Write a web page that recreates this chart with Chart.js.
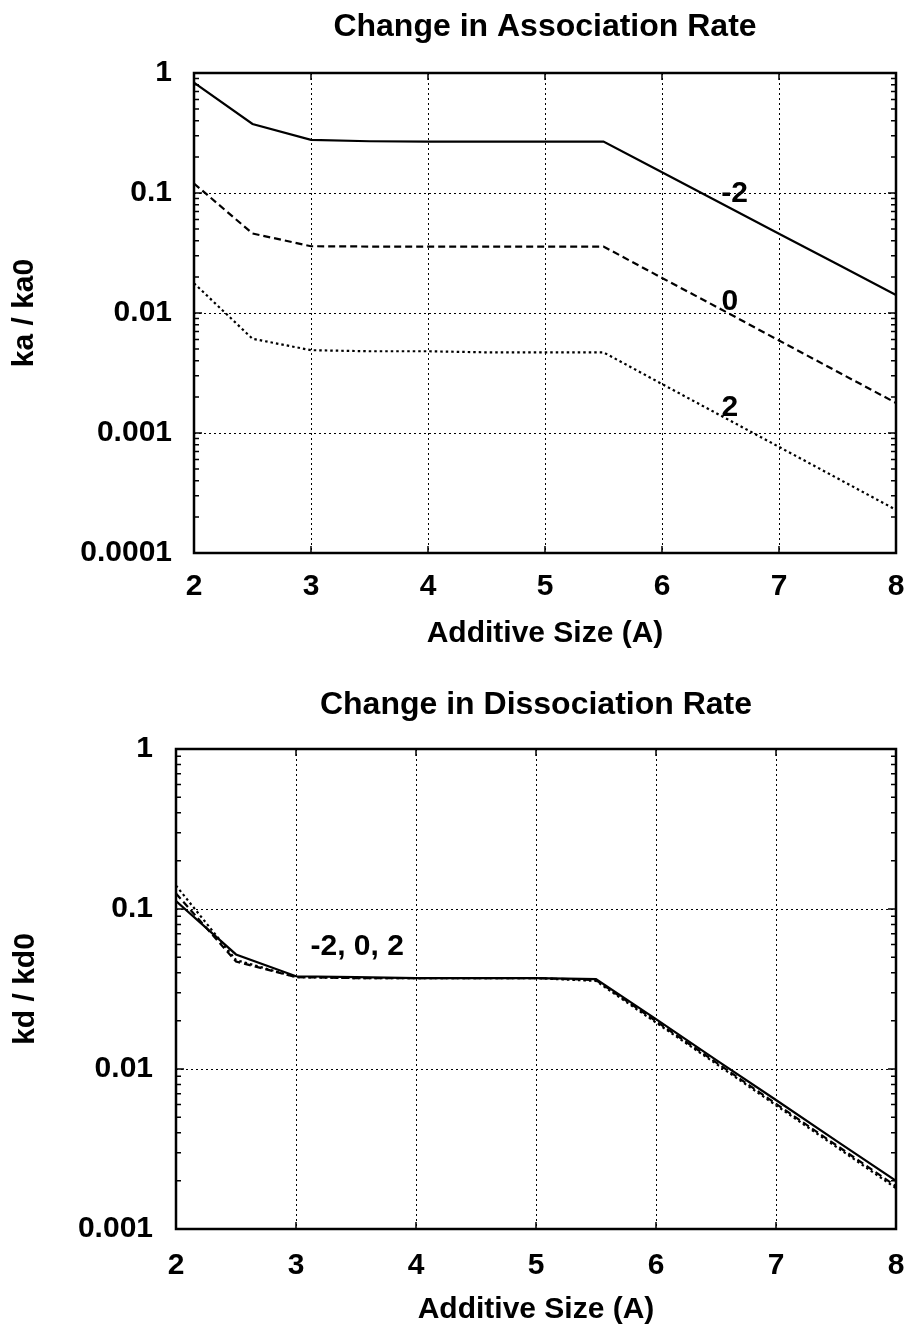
<!DOCTYPE html>
<html>
<head>
<meta charset="utf-8">
<title>Change in Association / Dissociation Rate</title>
<script src="https://cdn.jsdelivr.net/npm/chart.js@4.4.1/dist/chart.umd.min.js"></script>
<style>
  html, body { margin: 0; padding: 0; background: #fff; }
  canvas { display: block; }
</style>
</head>
<body>
<canvas id="assocChart" width="907" height="665"></canvas>
<canvas id="dissocChart" width="907" height="664"></canvas>
<script>
// additive size (A), sampled every 0.5
const sizes = [2, 2.5, 3, 3.5, 4, 4.5, 5, 5.5, 6, 6.5, 7, 7.5, 8];

// ka / ka0 for charges -2, 0, 2
const kaMinus2 = [0.83, 0.376, 0.277, 0.27, 0.268, 0.268, 0.268, 0.268, 0.149, 0.0826, 0.0458, 0.0255, 0.0141];
const kaZero   = [0.12, 0.046, 0.036, 0.0358, 0.0358, 0.0358, 0.0358, 0.0358, 0.0196, 0.0108, 0.0059, 0.00324, 0.00178];
const kaPlus2  = [0.0177, 0.0061, 0.0049, 0.0048, 0.0048, 0.0047, 0.0047, 0.0047, 0.00256, 0.0014, 0.000766, 0.000419, 0.000229];

// kd / kd0 for charges -2, 0, 2
const kdMinus2 = [0.112, 0.052, 0.038, 0.0375, 0.037, 0.037, 0.037, 0.0365, 0.0205, 0.0114, 0.0064, 0.00357, 0.002];
const kdZero   = [0.125, 0.047, 0.0375, 0.037, 0.037, 0.037, 0.037, 0.036, 0.0199, 0.011, 0.00606, 0.00335, 0.00185];
const kdPlus2  = [0.14, 0.048, 0.0375, 0.037, 0.037, 0.037, 0.037, 0.0355, 0.0195, 0.0108, 0.00593, 0.00327, 0.0018];

// axis ticks
const xTicks = [2, 3, 4, 5, 6, 7, 8];
const kaTicks = [1, 0.1, 0.01, 0.001, 0.0001];
const kdTicks = [1, 0.1, 0.01, 0.001];

// curve labels: text, x, y (data coords)
const kaCurveLabels = [['-2', 6.62, 0.098], ['0', 6.58, 0.0124], ['2', 6.58, 0.00163]];
const kdCurveLabels = [['-2, 0, 2', 3.51, 0.058]];

const FONT = "'Liberation Sans', Arial, Helvetica, sans-serif";
Chart.defaults.font.family = FONT;
Chart.defaults.font.weight = 'bold';
Chart.defaults.color = '#000';

const lineStyles = [
  { borderDash: [], borderWidth: 2.2 },        // -2 solid
  { borderDash: [7, 4], borderWidth: 2.2 },    // 0 dashed
  { borderDash: [2.5, 3], borderWidth: 2.2 }   // 2 dotted
];

// box frame, inward ticks and curve labels
const framePlugin = {
  id: 'frame',
  afterDatasetsDraw(chart, args, opts) {
    const { ctx, chartArea: { left, right, top, bottom } } = chart;
    const xs = chart.scales.x, ys = chart.scales.y;
    ctx.save();
    ctx.strokeStyle = '#000';
    ctx.lineWidth = 1.5;
    ctx.beginPath();
    xTicks.forEach(v => {
      const px = xs.getPixelForValue(v);
      ctx.moveTo(px, bottom); ctx.lineTo(px, bottom - 7);
      ctx.moveTo(px, top); ctx.lineTo(px, top + 7);
    });
    for (let d = ys.min; d < ys.max * 0.999; d *= 10) {
      for (let k = 1; k <= 9; k++) {
        const py = ys.getPixelForValue(k * d);
        const len = k === 1 ? 8 : 5;
        ctx.moveTo(left, py); ctx.lineTo(left + len, py);
        ctx.moveTo(right, py); ctx.lineTo(right - len, py);
      }
    }
    ctx.stroke();
    ctx.lineWidth = 2.5;
    ctx.strokeRect(left, top, right - left, bottom - top);

    ctx.fillStyle = '#000';
    ctx.font = 'bold 30px ' + FONT;
    ctx.textAlign = 'center';
    ctx.textBaseline = 'middle';
    (opts.labels || []).forEach(([t, vx, vy]) => {
      ctx.fillText(t, xs.getPixelForValue(vx), ys.getPixelForValue(vy));
    });
    ctx.restore();
  }
};

function makeChart(id, o) {
  const series = o.series.map((vals, i) => Object.assign({
    data: sizes.map((s, j) => ({ x: s, y: vals[j] })),
    borderColor: '#000',
    pointRadius: 0,
    tension: 0,
    fill: false
  }, lineStyles[i]));

  return new Chart(document.getElementById(id), {
    type: 'line',
    data: { datasets: series },
    plugins: [framePlugin],
    options: {
      responsive: false,
      animation: false,
      devicePixelRatio: 1,
      layout: { padding: { left: 0, right: 11, top: 0, bottom: 0 } },
      plugins: {
        legend: { display: false },
        tooltip: { enabled: false },
        title: {
          display: true,
          text: o.title,
          fullSize: false,
          color: '#000',
          font: { size: 32, weight: 'bold' },
          padding: o.titlePad
        },
        frame: { labels: o.labels }
      },
      scales: {
        x: {
          type: 'linear',
          min: 2,
          max: 8,
          afterBuildTicks: s => { s.ticks = xTicks.map(v => ({ value: v })); },
          afterFit: s => { s.height = o.xHeight; },
          // label gap comes from an invisible tick mark so the side padding stays small
          ticks: { font: { size: 30 }, padding: 0, maxRotation: 0, callback: v => String(v) },
          grid: { color: '#000', lineWidth: 1, drawTicks: true, tickLength: o.xTickPad, tickColor: 'rgba(0,0,0,0)' },
          border: { display: false, dash: [2, 3] },
          title: { display: true, text: 'Additive Size (A)', font: { size: 30 }, padding: { top: 0, bottom: o.xTitlePad } }
        },
        y: {
          type: 'logarithmic',
          min: o.yTicks[o.yTicks.length - 1],
          max: o.yTicks[0],
          afterBuildTicks: s => { s.ticks = o.yTicks.map(v => ({ value: v, major: true })); },
          afterFit: s => { s.width = o.yWidth; },
          ticks: { font: { size: 30 }, padding: o.yTickPad, callback: v => String(v) },
          grid: { color: '#000', lineWidth: 1, drawTicks: false },
          border: { display: false, dash: [2, 3] },
          title: { display: true, text: o.yTitle, font: { size: 30 }, padding: { top: o.yTitlePad, bottom: 0 } }
        }
      }
    }
  });
}

makeChart('assocChart', {
  title: 'Change in Association Rate',
  titlePad: { top: 8.4, bottom: 26.2 },
  series: [kaMinus2, kaZero, kaPlus2],
  yTicks: kaTicks,
  yTitle: 'ka / ka0',
  yWidth: 194,
  yTickPad: 22,
  yTitlePad: 7,
  xHeight: 112,
  xTickPad: 16,
  xTitlePad: 13,
  labels: kaCurveLabels
});

makeChart('dissocChart', {
  title: 'Change in Dissociation Rate',
  titlePad: { top: 21.4, bottom: 24.2 },
  series: [kdMinus2, kdZero, kdPlus2],
  yTicks: kdTicks,
  yTitle: 'kd / kd0',
  yWidth: 176,
  yTickPad: 23,
  yTitlePad: 8,
  xHeight: 100,
  xTickPad: 19,
  xTitlePad: 1,
  labels: kdCurveLabels
});
</script>
</body>
</html>
